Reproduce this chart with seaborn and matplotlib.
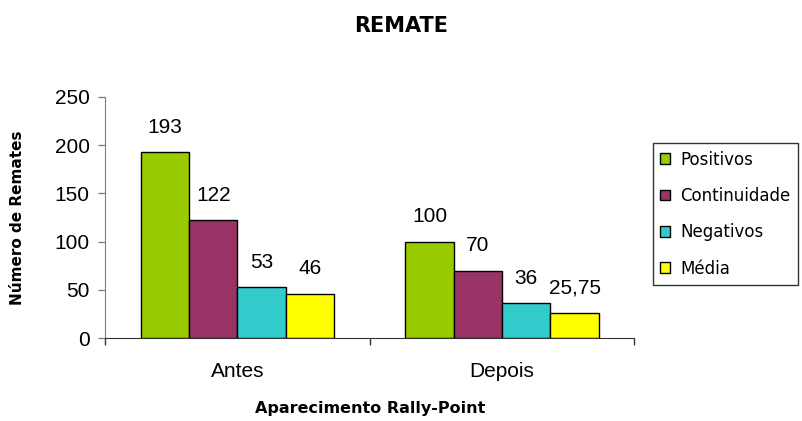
import matplotlib
matplotlib.use("Agg")
import matplotlib.pyplot as plt
import seaborn as sns
import pandas as pd

categories = ["Antes", "Depois"]
series = ["Positivos", "Continuidade", "Negativos", "Média"]
positivos = [193, 100]
continuidade = [122, 70]
negativos = [53, 36]
media = [46, 25.75]
colors = ["#99CC00", "#993366", "#33CCCC", "#FFFF00"]

values = [positivos, continuidade, negativos, media]
rows = []
for s, vals in zip(series, values):
    for c, v in zip(categories, vals):
        rows.append({"cat": c, "serie": s, "val": v})
df = pd.DataFrame(rows)

sns.set_style("white")
plt.rcParams["font.family"] = ["Liberation Sans", "DejaVu Sans"]
plt.rcParams["text.color"] = "black"
plt.rcParams["axes.labelcolor"] = "black"
plt.rcParams["xtick.color"] = "black"
plt.rcParams["ytick.color"] = "black"

fig = plt.figure(figsize=(8.02, 4.21), dpi=100)
ax = fig.add_axes([0.131, 0.197, 0.660, 0.573])

sns.barplot(data=df, x="cat", y="val", hue="serie", palette=colors,
            order=categories, hue_order=series, width=0.73, saturation=1,
            edgecolor="black", linewidth=1.0, ax=ax, legend=True, errorbar=None)

def fmt(v):
    s = f"{v:g}"
    return s.replace(".", ",")

for cont in ax.containers:
    labs = [fmt(b.get_height()) for b in cont]
    ax.bar_label(cont, labels=labs, padding=11, fontsize=15, color="black")

ax.set_ylim(0, 250)
ax.set_xlim(-0.5, 1.5)
ax.set_yticks([0, 50, 100, 150, 200, 250])
ax.tick_params(axis="y", labelsize=15, length=5, width=1, color="#808080",
               labelcolor="black", direction="out", left=True, pad=6)
ax.tick_params(axis="x", which="major", labelsize=15, length=0, pad=17,
               labelcolor="black")
ax.set_xticks([-0.5, 0.5, 1.5], minor=True)
ax.tick_params(axis="x", which="minor", length=5, width=1, color="#333333",
               direction="out", bottom=True)

for sp in ["top", "right"]:
    ax.spines[sp].set_visible(False)
ax.spines["left"].set_color("#808080")
ax.spines["bottom"].set_color("#333333")

ax.set_xlabel("Aparecimento Rally-Point", fontsize=11.5, fontweight="bold",
              family="DejaVu Sans")
ax.set_ylabel("Número de Remates", fontsize=11, fontweight="bold",
              family="DejaVu Sans")
ax.xaxis.set_label_coords(0.5, -0.262)
ax.yaxis.set_label_coords(-0.151, 0.5)
fig.text(0.5, 0.939, "REMATE", ha="center", va="center", fontsize=15,
         fontweight="bold", family="DejaVu Sans")

leg = ax.legend(loc="upper left", bbox_to_anchor=(0.814, 0.660), bbox_transform=fig.transFigure,
                frameon=True, fancybox=False, edgecolor="black",
                prop={"family": "DejaVu Sans", "size": 12}, handlelength=0.6, handleheight=0.6,
                handletextpad=0.6, labelspacing=1.1, borderpad=0.45, borderaxespad=0)
leg.get_frame().set_linewidth(1.0)
leg.set_title(None)

fig.savefig("out.png", dpi=100)
